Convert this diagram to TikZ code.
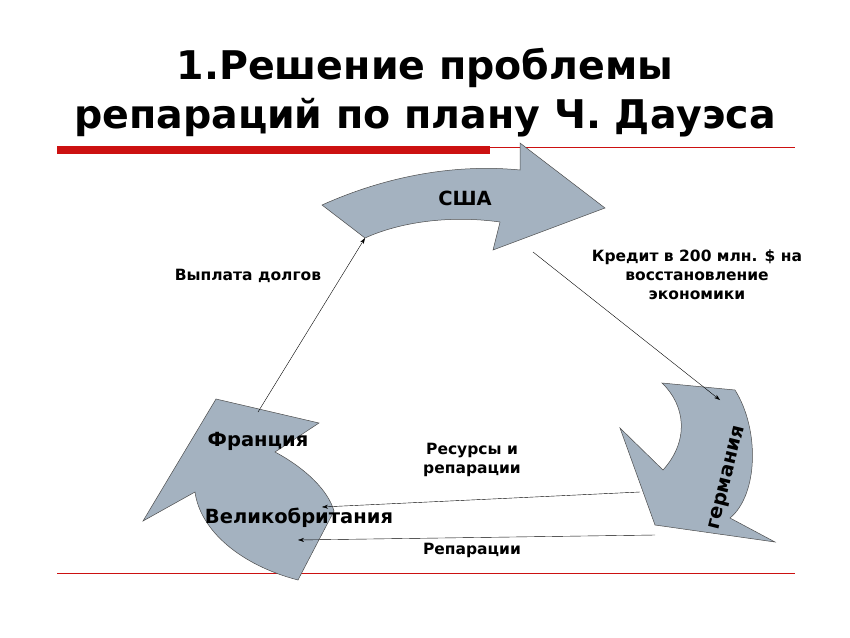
\documentclass[tikz,border=0pt]{standalone}
\usepackage{fontspec}
\setmainfont{DejaVu Sans}
\usetikzlibrary{arrows.meta}
\definecolor{shapeFill}{HTML}{A4B2C0}
\definecolor{barRed}{HTML}{CC1111}
\begin{document}
\begin{tikzpicture}[x=1pt,y=-1pt]
\tikzset{
    titleStyle/.style={font=\fontsize{39.5}{49}\selectfont\bfseries, align=center},
    bigLabel/.style={font=\fontsize{19.5}{22}\selectfont\bfseries, align=center},
    smallLabel/.style={font=\fontsize{15.5}{19}\selectfont\bfseries, align=center},
    countryShape/.style={fill=shapeFill, draw=black!70, line width=0.5pt},
    flowArrow/.style={-{Stealth[length=6pt,width=4pt]}, line width=0.4pt}
}
\useasboundingbox (0,0) rectangle (850,637);

% title
\node[titleStyle] (title) at (425,93) {1.Решение проблемы\\репараций по плану Ч. Дауэса};
\draw[barRed, line width=0.5pt] (57,147) -- (795,147);
\fill[barRed] (57,146) rectangle (490,154);
\draw[barRed, line width=0.5pt] (57,573) -- (795,573);

% shapes
\draw[countryShape] (322,205) .. controls (400,170) and (470,165) .. (520,170)
    -- (520,143) -- (605,208) -- (493,250) -- (500,222)
    .. controls (450,215) and (400,222) .. (365,238) -- cycle;
\draw[countryShape] (216,399) -- (319,423) -- (275,452)
    .. controls (305,468) and (328,490) .. (334,511)
    -- (298,580) .. controls (240,565) and (200,530) .. (195,492)
    -- (143,521) -- cycle;
\draw[countryShape] (662,383) -- (735,390)
    .. controls (760,430) and (758,495) .. (730,518)
    -- (775,542) -- (655,525) -- (620,428) -- (663,470)
    .. controls (690,440) and (685,405) .. (662,383) -- cycle;

% labels
\node[bigLabel] (usa) at (465,198) {США};
\node[bigLabel] (france) at (258,441) {Франция};
\node[bigLabel] (britain) at (299,518) {Великобритания};
\node[bigLabel, rotate=76] (germany) at (728,478) {германия};
\node[smallLabel] (debts) at (248,276) {Выплата долгов};
\node[smallLabel] (credit) at (697,275) {Кредит в 200 млн. \$ на\\восстановление\\экономики};
\node[smallLabel] (resources) at (472,460) {Ресурсы и\\ репарации};
\node[smallLabel] (reparations) at (472,550) {Репарации};

% flows
\coordinate (debtsFrom) at (258,412);
\coordinate (debtsTo) at (365,238);
\coordinate (creditFrom) at (533,252);
\coordinate (creditTo) at (720,400);
\coordinate (resFrom) at (640,492);
\coordinate (resTo) at (322,507);
\coordinate (repFrom) at (655,535);
\coordinate (repTo) at (298,540);
\draw[flowArrow] (debtsFrom) -- (debtsTo);
\draw[flowArrow] (creditFrom) -- (creditTo);
\draw[flowArrow] (resFrom) -- (resTo);
\draw[flowArrow] (repFrom) -- (repTo);
\end{tikzpicture}
\end{document}
